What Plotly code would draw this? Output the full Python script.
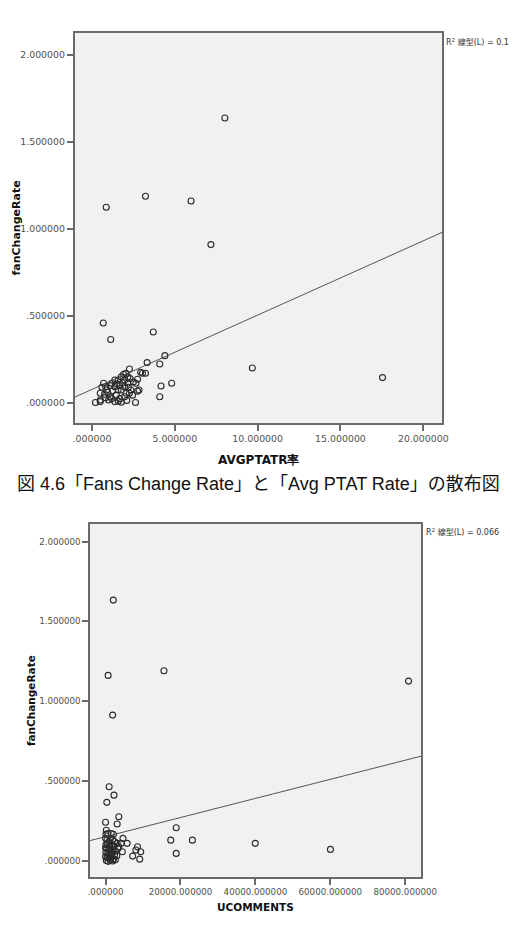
import plotly.graph_objects as go

W, H = 528, 933

# ---------------- data: chart 1 (AVGPTATR率 vs fanChangeRate) ----------------
avg_ptat_rate = [8.02, 0.86, 3.23, 5.98, 7.18, 0.68, 3.70, 1.13, 4.40, 4.09, 3.33, 9.68, 17.54,
                 4.17, 4.81, 4.09, 2.63, 0.21, 0.50,
                 2.26, 2.94, 3.23, 3.05, 1.91, 2.75, 2.65, 2.84, 2.75, 0.70, 0.50, 0.50, 1.38,
                 1.77, 1.47, 1.09, 0.89, 0.83, 1.58, 1.97, 2.16, 2.35, 2.06, 1.77, 1.58, 1.38,
                 1.19, 1.67, 1.97, 2.26, 2.45, 1.97, 1.67, 1.19, 1.00, 2.16, 1.77, 1.38, 0.60,
                 0.75, 0.95, 1.25, 1.50, 1.85, 2.05, 2.20, 1.10, 0.80, 1.60, 2.10, 2.50, 2.30]
fan_rate_1 = [1.638, 1.125, 1.188, 1.161, 0.910, 0.460, 0.408, 0.365, 0.272, 0.224, 0.232, 0.201, 0.146,
              0.098, 0.113, 0.036, 0.003, 0.003, 0.008,
              0.195, 0.176, 0.171, 0.171, 0.165, 0.136, 0.113, 0.075, 0.068, 0.113, 0.056, 0.017, 0.008,
              0.004, 0.045, 0.036, 0.075, 0.094, 0.132, 0.132, 0.113, 0.075, 0.056, 0.075, 0.075, 0.094,
              0.113, 0.100, 0.094, 0.056, 0.045, 0.036, 0.025, 0.025, 0.017, 0.150, 0.150, 0.132, 0.090,
              0.050, 0.060, 0.070, 0.110, 0.115, 0.170, 0.090, 0.100, 0.030, 0.010, 0.015, 0.120, 0.140]
fit1_intercept = 0.078
fit1_slope = 0.0427
fit1_r2 = "0.1"

x1_tickvals = [0, 5, 10, 15, 20]
x1_ticktext = [".000000", "5.000000", "10.000000", "15.000000", "20.000000"]
y_tickvals = [0, 0.5, 1.0, 1.5, 2.0]
y_ticktext = [".000000", ".500000", "1.000000", "1.500000", "2.000000"]

# ---------------- data: chart 2 (UCOMMENTS vs fanChangeRate) ----------------
ucomments = [2067, 690, 15580, 1890, 80880, 950, 2250, 340, 3540, 3100, 18860, 17400, 23180, 18860,
             39970, 60030,
             8530, 9380, 7240, 9120, 8090, 5760, 4650, 4210, 4470, 3540, 3100,
             0, 200, 100, 600, 1500, 2100, 0, 400, 900, 1300, 1900, 2400, 100, 500, 1100, 1700, 2300,
             0, 300, 800, 1400, 2000, 2600, 100, 600, 1200, 1800, 2400, 0, 400, 900, 1500, 2100,
             200, 700, 1300, 1900, 2600, 3000, 3300]
fan_rate_2 = [1.633, 1.161, 1.190, 0.912, 1.125, 0.463, 0.410, 0.365, 0.275, 0.229, 0.206, 0.128, 0.128, 0.045,
              0.108, 0.070,
              0.087, 0.055, 0.028, 0.009, 0.066, 0.108, 0.139, 0.108, 0.055, 0.087, 0.108,
              0.240, 0.190, 0.165, 0.170, 0.170, 0.165, 0.140, 0.130, 0.120, 0.140, 0.130, 0.120, 0.100,
              0.105, 0.090, 0.100, 0.090, 0.080, 0.075, 0.070, 0.065, 0.070, 0.060, 0.050, 0.045, 0.040,
              0.045, 0.035, 0.025, 0.020, 0.015, 0.020, 0.010, 0.000, -0.005, 0.002, -0.003, 0.005,
              0.030, 0.075]
fit2_intercept = 0.150
fit2_slope = 5.99e-6
fit2_r2 = "0.066"

x2_tickvals = [0, 20000, 40000, 60000, 80000]
x2_ticktext = [".000000", "20000.000000", "40000.000000", "60000.000000", "80000.000000"]

x1_range = [-1.05, 21.15]
y1_range = [-0.115, 2.126]
x2_range = [-4134, 84220]
y2_range = [-0.103, 2.11]

caption = "図 4.6「Fans Change Rate」と「Avg PTAT Rate」の散布図"


def px_x(p):
    return p / W


def px_y(p):
    return 1 - p / H


fig = go.Figure()

marker = dict(symbol="circle-open", size=6, color="#2a2a2a", line=dict(width=1.1, color="#2a2a2a"))

fig.add_trace(go.Scatter(x=avg_ptat_rate, y=fan_rate_1, mode="markers", marker=marker,
                         xaxis="x", yaxis="y", showlegend=False, hoverinfo="skip"))
fig.add_trace(go.Scatter(x=x1_range, y=[fit1_intercept + fit1_slope * v for v in x1_range],
                         mode="lines", line=dict(color="#444444", width=0.9),
                         xaxis="x", yaxis="y", showlegend=False, hoverinfo="skip"))
fig.add_trace(go.Scatter(x=ucomments, y=fan_rate_2, mode="markers", marker=marker,
                         xaxis="x2", yaxis="y2", showlegend=False, hoverinfo="skip"))
fig.add_trace(go.Scatter(x=x2_range, y=[fit2_intercept + fit2_slope * v for v in x2_range],
                         mode="lines", line=dict(color="#444444", width=0.9),
                         xaxis="x2", yaxis="y2", showlegend=False, hoverinfo="skip"))

axis_common = dict(showline=True, mirror=True, linecolor="#6a6a6a", linewidth=1.5,
                   ticks="outside", ticklen=6, tickwidth=1.5, tickcolor="#6a6a6a",
                   showgrid=False, zeroline=False, fixedrange=True)

tf1 = dict(family="DejaVu Sans", size=9.4, color="#505050")
tf2 = dict(family="DejaVu Sans", size=8.7, color="#505050")

fig.update_layout(
    width=W, height=H,
    margin=dict(l=0, r=0, t=0, b=0),
    paper_bgcolor="white",
    plot_bgcolor="#f1f1f1",
    xaxis=dict(domain=[px_x(75), px_x(455)], range=x1_range, tickvals=x1_tickvals,
               ticktext=x1_ticktext, tickfont=tf1, anchor="y", **axis_common),
    yaxis=dict(domain=[px_y(423), px_y(33)], range=y1_range, tickvals=y_tickvals,
               ticktext=y_ticktext, tickfont=tf1, anchor="x", **axis_common),
    xaxis2=dict(domain=[px_x(91), px_x(433)], range=x2_range, tickvals=x2_tickvals,
                ticktext=x2_ticktext, tickfont=tf2, anchor="y2", **axis_common),
    yaxis2=dict(domain=[px_y(877), px_y(524)], range=y2_range, tickvals=y_tickvals,
                ticktext=y_ticktext, tickfont=tf2, anchor="x2", **axis_common),
)

title_font = dict(family="DejaVu Sans", size=10.5, color="#111111")
ann = []
# axis titles chart 1
ann.append(dict(text="<b>AVGPTATR率</b>", x=px_x(265), y=px_y(460),
                font=dict(family="DejaVu Sans", size=12, color="#111111")))
ann.append(dict(text="<b>fanChangeRate</b>", x=px_x(14), y=px_y(228), textangle=-90,
                font=dict(family="DejaVu Sans", size=11, color="#111111")))
# caption
ann.append(dict(text=caption, x=px_x(265), y=px_y(484),
                font=dict(family="Liberation Sans, Noto Sans CJK JP", size=18, color="#111111")))
# axis titles chart 2
ann.append(dict(text="<b>UCOMMENTS</b>", x=px_x(262), y=px_y(907), font=title_font))
ann.append(dict(text="<b>fanChangeRate</b>", x=px_x(30), y=px_y(701), textangle=-90, font=title_font))
for a in ann:
    a.update(xref="paper", yref="paper", showarrow=False, xanchor="center", yanchor="middle")

# R^2 labels
r2_font = dict(family="DejaVu Sans, Noto Sans CJK JP", size=8, color="#333333")
ann.append(dict(text="R<sup>2</sup> 線型(L) = " + fit1_r2, x=px_x(457), y=px_y(42), xref="paper",
                yref="paper", xanchor="left", yanchor="middle", showarrow=False, font=r2_font))
ann.append(dict(text="R<sup>2</sup> 線型(L) = " + fit2_r2, x=px_x(436), y=px_y(532), xref="paper",
                yref="paper", xanchor="left", yanchor="middle", showarrow=False, font=r2_font))
fig.update_layout(annotations=ann)

fig.write_html("out.html")
